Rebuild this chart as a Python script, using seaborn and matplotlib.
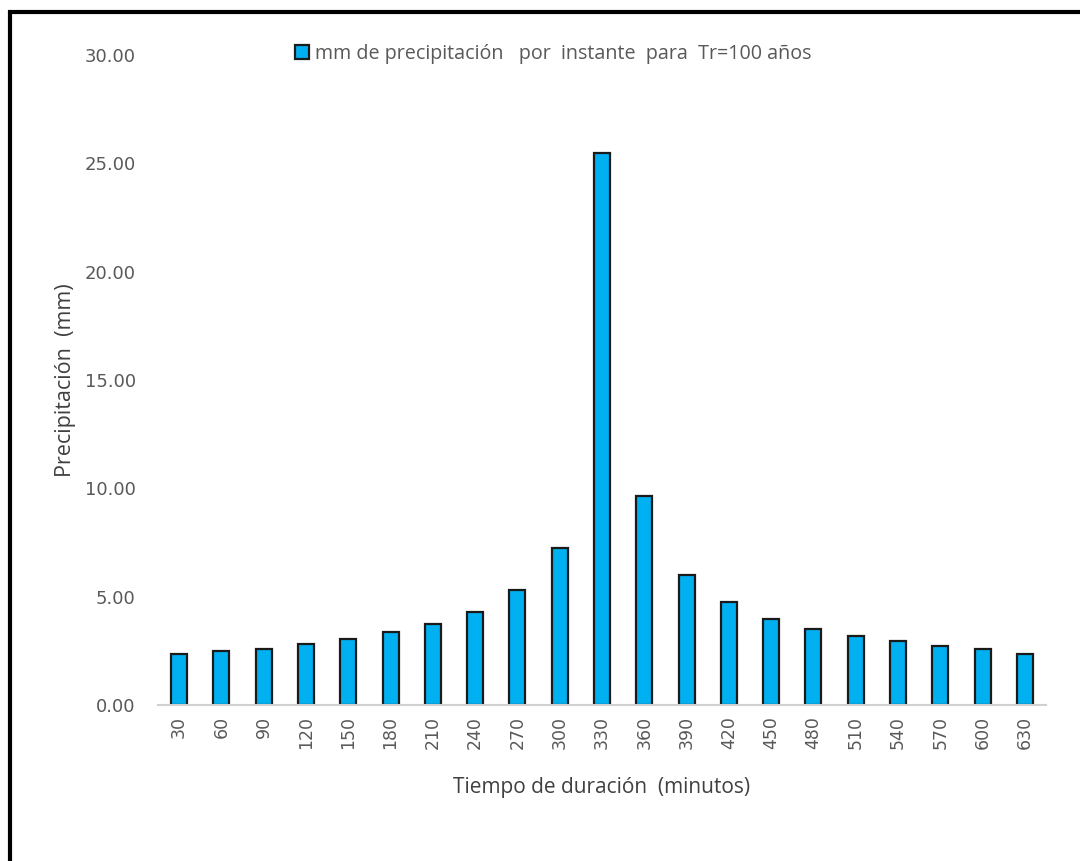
import matplotlib
matplotlib.use("Agg")
import matplotlib.pyplot as plt
from matplotlib.patches import Rectangle
import seaborn as sns
import pandas as pd

# Hyetograph data: duration (minutes) and precipitation per interval (mm)
duracion = ["30", "60", "90", "120", "150", "180", "210", "240", "270", "300", "330",
            "360", "390", "420", "450", "480", "510", "540", "570", "600", "630"]
precipitacion = [2.37, 2.49, 2.60, 2.83, 3.06, 3.38, 3.75, 4.29, 5.31, 7.25, 25.47,
                 9.65, 6.00, 4.77, 3.95, 3.51, 3.17, 2.94, 2.71, 2.60, 2.37]
yticks = [0, 5, 10, 15, 20, 25, 30]
serie = "mm de precipitación   por  instante  para  Tr=100 años"

df = pd.DataFrame({"duracion": duracion, "precipitacion": precipitacion})

sns.set_style("white")
plt.rcParams["font.family"] = ["DejaVu Sans"]

fig = plt.figure(figsize=(10.8, 8.61), dpi=100)
ax = fig.add_axes([0.1463, 0.1812, 0.8222, 0.7549])

sns.barplot(data=df, x="duracion", y="precipitacion", order=duracion,
            color="#00B0F0", edgecolor="#1a1a1a", linewidth=1.6, width=0.38,
            saturation=1, label=serie, ax=ax)

ax.set_ylim(0, 30)
ax.set_xlim(-0.5, len(duracion) - 0.5)
ax.set_yticks(yticks)
ax.set_yticklabels([f"{v:.2f}" for v in yticks])

for side in ["top", "right", "left"]:
    ax.spines[side].set_visible(False)
ax.spines["bottom"].set_color("#d0d0d0")
ax.spines["bottom"].set_linewidth(1.5)

ax.tick_params(axis="y", length=0, pad=16, labelsize=13, labelcolor="#595959")
ax.tick_params(axis="x", length=0, pad=8, labelsize=12.5, labelcolor="#595959",
               labelrotation=90)

ax.set_xlabel("Tiempo de duración  (minutos)", fontsize=15, color="#404040",
              family="Open Sans", labelpad=20)
ax.set_ylabel("Precipitación  (mm)", fontsize=15.5, color="#404040",
              family="Open Sans", labelpad=6)

leg = ax.legend(loc="upper center", bbox_to_anchor=(0.445, 1.045), frameon=False,
                handlelength=0.7, handleheight=0.7, handletextpad=0.3,
                prop={"family": "Open Sans", "size": 14.2})
for t in leg.get_texts():
    t.set_color("#595959")

# Outer frame around the chart
frame = Rectangle((10 / 1080, -0.1), 1.2, 1 - 12 / 861 + 0.1, transform=fig.transFigure,
                  fill=False, edgecolor="black", linewidth=3, clip_on=False)
fig.patches.append(frame)

fig.savefig("out.png", dpi=100, facecolor="white")
